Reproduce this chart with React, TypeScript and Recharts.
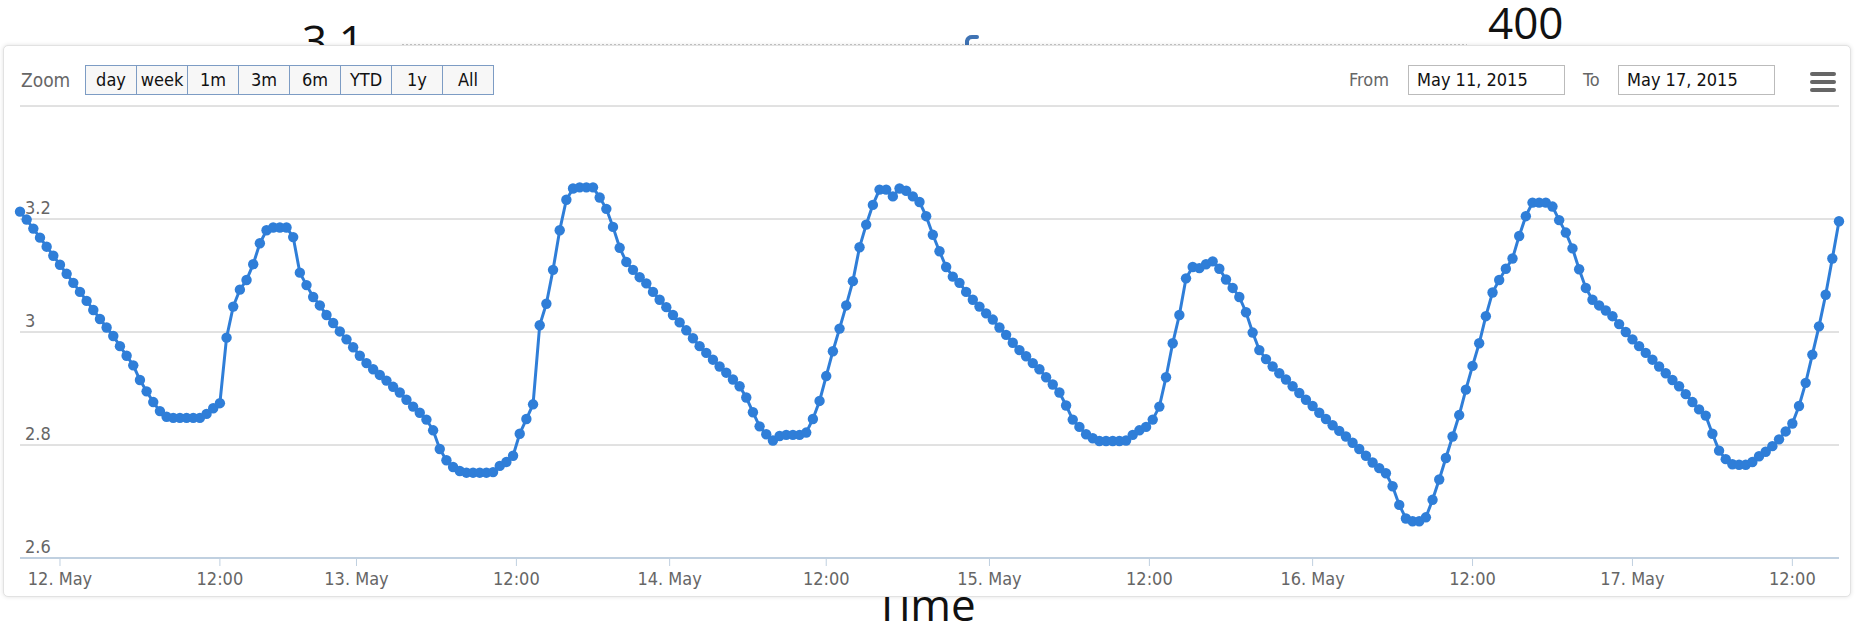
import { LineChart, Line, XAxis, YAxis, CartesianGrid } from 'recharts';

// half-hourly readings along the ordinal axis, from ~21:00 on 11 May to ~14:00 on 17 May
const readings = [
  3.213, 3.199, 3.183, 3.167, 3.151, 3.135, 3.119, 3.103, 3.087, 3.071, 3.055, 3.039, 3.023, 3.008, 2.993,
  2.975, 2.958, 2.941, 2.915, 2.895, 2.876, 2.86, 2.85, 2.848, 2.848, 2.848, 2.848, 2.848, 2.855, 2.865, 2.874,
  2.99, 3.045, 3.075, 3.092, 3.12, 3.157, 3.18, 3.185, 3.185, 3.185, 3.168, 3.105, 3.083, 3.062, 3.047, 3.03, 3.016, 3.001, 2.987, 2.973,
  2.958, 2.945, 2.934, 2.924, 2.914, 2.903, 2.893, 2.88, 2.868, 2.857, 2.845, 2.826, 2.793, 2.773, 2.761, 2.754, 2.751, 2.751, 2.751, 2.751,
  2.752, 2.763, 2.77, 2.781, 2.82, 2.846, 2.872, 3.012, 3.05, 3.11, 3.18, 3.234, 3.254, 3.256, 3.256, 3.256, 3.238, 3.218, 3.186, 3.149,
  3.124, 3.11, 3.097, 3.086, 3.071, 3.057, 3.044, 3.03, 3.017, 3.003, 2.989, 2.975, 2.963, 2.951, 2.939, 2.928, 2.916, 2.904, 2.884, 2.858,
  2.833, 2.819, 2.808, 2.816, 2.818, 2.818, 2.818, 2.822, 2.846, 2.878, 2.922, 2.966, 3.006, 3.047, 3.09, 3.15, 3.19, 3.225, 3.252, 3.252,
  3.24, 3.254, 3.25, 3.24, 3.23, 3.205, 3.172, 3.143, 3.115, 3.098, 3.087, 3.071, 3.057, 3.045, 3.033, 3.022, 3.008, 2.995, 2.981, 2.968,
  2.957, 2.945, 2.934, 2.92, 2.907, 2.893, 2.87, 2.845, 2.832, 2.819, 2.812, 2.807, 2.807, 2.807, 2.807, 2.808, 2.818, 2.826, 2.832, 2.845,
  2.868, 2.92, 2.98, 3.03, 3.095, 3.115, 3.113, 3.12, 3.125, 3.112, 3.093, 3.078, 3.062, 3.035, 2.999, 2.968, 2.952, 2.939, 2.927, 2.916,
  2.904, 2.892, 2.88, 2.869, 2.857, 2.846, 2.835, 2.825, 2.815, 2.804, 2.793, 2.781, 2.769, 2.759, 2.75, 2.727, 2.694, 2.67, 2.665, 2.665,
  2.672, 2.703, 2.739, 2.777, 2.815, 2.853, 2.898, 2.94, 2.98, 3.028, 3.07, 3.092, 3.112, 3.13, 3.17, 3.205, 3.229, 3.229, 3.229, 3.222,
  3.198, 3.176, 3.148, 3.111, 3.078, 3.057, 3.047, 3.038, 3.028, 3.014, 3.0, 2.987, 2.975, 2.963, 2.951, 2.939, 2.927, 2.915, 2.904, 2.89,
  2.876, 2.863, 2.852, 2.82, 2.79, 2.775, 2.766, 2.765, 2.765, 2.77, 2.78, 2.788, 2.798, 2.81, 2.824, 2.838, 2.869, 2.91, 2.96, 3.01, 3.066, 3.13, 3.196,
];

// where the date ticks fall on the ordinal axis (in reading index units)
const tickIndex = [6, 30, 50.5, 74.5, 97.5, 121, 145.5, 169.5, 194, 218, 242, 266];
const tickLabels = ['12. May', '12:00', '13. May', '12:00', '14. May', '12:00', '15. May', '12:00', '16. May', '12:00', '17. May', '12:00'];
const yTicks = [2.6, 2.8, 3, 3.2, 3.4];

const zoomButtons = ['day', 'week', '1m', '3m', '6m', 'YTD', '1y', 'All'];
const fromDate = 'May 11, 2015';
const toDate = 'May 17, 2015';

const data = readings.map((v, i) => ({ i, v }));

const labelFont = "'DejaVu Sans Condensed', 'DejaVu Sans', sans-serif";
const bigFont = "'Open Sans', sans-serif";

const renderYTick = (props: any) => {
  const { y, payload } = props;
  if (payload.value > 3.3) return <g />;
  const txt = Number(Number(payload.value).toFixed(1)).toString();
  return (
    <text x={25} y={y - 5} fill="#666" fontSize={18} fontFamily={labelFont}>
      {txt}
    </text>
  );
};

export default function App() {
  const W = 1855;
  const H = 625;
  return (
    <div style={{ position: 'absolute', left: 0, top: 0, width: W, height: H, overflow: 'hidden', background: '#fff' }}>
      {/* stray text of the chart behind */}
      <svg width={W} height={H} style={{ position: 'absolute', left: 0, top: 0 }}>
        <text x={302} y={57} fontSize={44} fontFamily={bigFont} fill="#111">3.1</text>
        <text x={1488} y={39} fontSize={44} fontFamily={bigFont} fill="#111">400</text>
        <line x1={402} x2={1467} y1={44.5} y2={44.5} stroke="#c8c8c8" strokeDasharray="2 2" />
        <path d="M967 45 L967 41 Q968 37 972 37 L977 37" stroke="#3f73b4" strokeWidth={4} fill="none" strokeLinecap="round" />
        <text x={875} y={621} fontSize={44} fontFamily={bigFont} fill="#111">Time</text>
      </svg>

      <div
        style={{
          position: 'absolute', left: 3, top: 45, width: 1846, height: 550,
          background: '#fff', border: '1px solid #e2e2e2', borderRadius: 5,
          boxShadow: '0 0 4px rgba(0,0,0,0.12)',
        }}
      />

      <div style={{ position: 'absolute', left: 0, top: 0 }}>
        <LineChart width={W} height={H} data={data} margin={{ top: 106, right: 16, left: 19, bottom: 0 }}>
          <CartesianGrid vertical={false} stroke="#c4c4c4" />
          <XAxis
            dataKey="i"
            type="number"
            domain={[0, readings.length - 1]}
            ticks={tickIndex}
            interval={0}
            height={67}
            tickFormatter={(v: number) => tickLabels[tickIndex.indexOf(v)] ?? ''}
            axisLine={{ stroke: '#c0d0e0', strokeWidth: 2 }}
            tickLine={{ stroke: '#c0d0e0' }}
            tickSize={8}
            tickMargin={6}
            tick={{ fill: '#666', fontSize: 18, fontFamily: labelFont }}
          />
          <YAxis
            type="number"
            domain={[2.6, 3.4]}
            ticks={yTicks}
            interval={0}
            width={1}
            axisLine={false}
            tickLine={false}
            tick={renderYTick}
          />
          <Line
            type="linear"
            dataKey="v"
            stroke="#2f7ed8"
            strokeWidth={3}
            dot={{ r: 5.2, fill: '#2f7ed8', stroke: '#2f7ed8', strokeWidth: 0 }}
            isAnimationActive={false}
          />
        </LineChart>
      </div>

      {/* range selector */}
      <div style={{ position: 'absolute', left: 21, top: 65, height: 30, lineHeight: '30px', fontSize: 19, fontFamily: labelFont, color: '#666' }}>
        Zoom
      </div>
      <div style={{ position: 'absolute', left: 85, top: 65, display: 'flex' }}>
        {zoomButtons.map((b, idx) => (
          <div
            key={b}
            style={{
              width: 50, height: 28, lineHeight: '28px', textAlign: 'center',
              border: '1px solid #7d9cc4', marginLeft: idx === 0 ? 0 : -1,
              background: '#f7f7f7', fontSize: 18, fontFamily: labelFont, color: '#111',
            }}
          >
            {b}
          </div>
        ))}
      </div>
      <div style={{ position: 'absolute', left: 1349, top: 65, height: 30, lineHeight: '30px', fontSize: 18, fontFamily: labelFont, color: '#666' }}>
        From
      </div>
      <div style={{ position: 'absolute', left: 1408, top: 65, width: 147, height: 28, lineHeight: '28px', border: '1px solid #bbb', paddingLeft: 8, fontSize: 18, fontFamily: labelFont, color: '#111' }}>
        {fromDate}
      </div>
      <div style={{ position: 'absolute', left: 1583, top: 65, height: 30, lineHeight: '30px', fontSize: 18, fontFamily: labelFont, color: '#666' }}>
        To
      </div>
      <div style={{ position: 'absolute', left: 1618, top: 65, width: 147, height: 28, lineHeight: '28px', border: '1px solid #bbb', paddingLeft: 8, fontSize: 18, fontFamily: labelFont, color: '#111' }}>
        {toDate}
      </div>
      <svg width={30} height={26} style={{ position: 'absolute', left: 1808, top: 69 }}>
        {[3, 11, 19].map((y) => (
          <rect key={y} x={2} y={y} width={26} height={4} rx={2} fill="#666" />
        ))}
      </svg>
    </div>
  );
}
